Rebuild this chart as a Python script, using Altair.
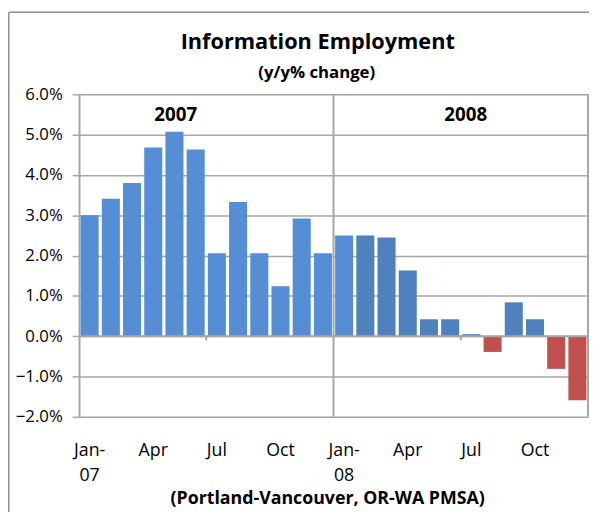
import altair as alt
import pandas as pd

periods = ["Jan-07","Feb-07","Mar-07","Apr-07","May-07","Jun-07","Jul-07","Aug-07","Sep-07","Oct-07","Nov-07","Dec-07",
           "Jan-08","Feb-08","Mar-08","Apr-08","May-08","Jun-08","Jul-08","Aug-08","Sep-08","Oct-08","Nov-08","Dec-08"]
values = [3.00, 3.41, 3.80, 4.68, 5.07, 4.63, 2.06, 3.33, 2.06, 1.24, 2.92, 2.06,
          2.50, 2.50, 2.45, 1.63, 0.42, 0.42, 0.05, -0.39, 0.84, 0.42, -0.81, -1.59]
shades = ["light"] * 13 + ["dark"] * 11
y_ticks = [-2, -1, 0, 1, 2, 3, 4, 5, 6]
year_labels = ["2007", "2008"]

FONT = "Open Sans"
W, H = 516, 327
GRID = "#a6a6a6"

df = pd.DataFrame({"period": periods, "value": values})
df["shade"] = [("neg" if v < 0 else s) for v, s in zip(values, shades)]

xscale = alt.Scale(domain=periods, paddingInner=0, paddingOuter=0)
yscale = alt.Scale(domain=[-2, 6], nice=False, zero=False)

label_expr = ("indexof(['Jan','Apr','Jul','Oct'], substring(datum.value,0,3)) < 0 ? '' : "
              "(substring(datum.value,0,3) == 'Jan' ? ['Jan-', substring(datum.value,4,6)] : substring(datum.value,0,3))")

bars = alt.Chart(df).mark_bar(width=alt.RelativeBandSize(0.85)).encode(
    x=alt.X("period:N", scale=xscale, sort=periods,
            axis=alt.Axis(title=None, labelExpr=label_expr, labelAngle=0, domain=False, ticks=False,
                          labelFont=FONT, labelFontSize=18, labelColor="#000", labelPadding=25,
                          labelBaseline="top", labelLineHeight=26, grid=False, labelOverlap=False)),
    y=alt.Y("value:Q", scale=yscale,
            axis=alt.Axis(title=None, values=y_ticks, labelExpr="format(datum.value, '.1f') + '%'",
                          grid=True, gridColor=GRID, gridWidth=1.5,
                          domain=True, domainColor=GRID, domainWidth=2,
                          ticks=True, tickColor=GRID, tickSize=7, tickWidth=1.5,
                          labelFont=FONT, labelFontSize=17, labelColor="#000", labelPadding=10)),
    color=alt.Color("shade:N", scale=alt.Scale(domain=["light", "dark", "neg"],
                                               range=["#558ed5", "#4f81bd", "#c0504d"]), legend=None),
)

zero_df = pd.DataFrame({"v": [0]})
zero_line = alt.Chart(zero_df).mark_rule(color=GRID, strokeWidth=2).encode(y=alt.Y("v:Q", scale=yscale))

sep_df = pd.DataFrame({"p": ["Jan-08"]})
sep = alt.Chart(sep_df).mark_rule(color=GRID, strokeWidth=2).encode(
    x=alt.X("p:N", scale=xscale, sort=periods, bandPosition=0),
    y=alt.value(0), y2=alt.value(H))

right_line = alt.Chart(zero_df).mark_rule(color=GRID, strokeWidth=2).encode(
    x=alt.value(W), y=alt.value(0), y2=alt.value(H))

tick_df = pd.DataFrame({"p": ["Jul-07", "Jul-08"]})
ticks = alt.Chart(tick_df).mark_rule(color=GRID, strokeWidth=2).encode(
    x=alt.X("p:N", scale=xscale, sort=periods, bandPosition=0),
    y=alt.Y("lo:Q", scale=yscale), y2="hi:Q").transform_calculate(lo="-0.1", hi="0")

year_df = pd.DataFrame({"t": year_labels, "px": [98, 392]})
years = alt.Chart(year_df).mark_text(font=FONT, fontSize=19, fontWeight="bold", color="#000").encode(
    x=alt.X("px:Q", scale=None), y=alt.value(21), text="t:N")

txt_df = pd.DataFrame({"t": ["Information Employment"]})
title = alt.Chart(txt_df).mark_text(font=FONT, fontSize=22, fontWeight="bold", color="#000").encode(
    x=alt.value(242), y=alt.value(-53), text="t:N")
sub_df = pd.DataFrame({"t": ["(y/y% change)"]})
subtitle = alt.Chart(sub_df).mark_text(font=FONT, fontSize=17, fontWeight="bold", color="#000").encode(
    x=alt.value(241), y=alt.value(-22), text="t:N")
foot_df = pd.DataFrame({"t": ["(Portland-Vancouver, OR-WA PMSA)"]})
footer = alt.Chart(foot_df).mark_text(font=FONT, fontSize=18, fontWeight="bold", color="#000").encode(
    x=alt.value(252), y=alt.value(410), text="t:N")

frame_l = alt.Chart(zero_df).mark_rule(color="#8c8c8c", strokeWidth=1.5).encode(
    x=alt.value(-71.2), y=alt.value(-83.2), y2=alt.value(H + 100))
frame_t = alt.Chart(zero_df).mark_rule(color="#8c8c8c", strokeWidth=1.5).encode(
    x=alt.value(-71.2), x2=alt.value(W + 20), y=alt.value(-83.2))

chart = alt.layer(bars, zero_line, sep, right_line, ticks, years, title, subtitle, footer, frame_l, frame_t).properties(
    width=W, height=H,
    padding={"left": 72, "top": 84, "right": 1, "bottom": 93},
    autosize=alt.AutoSizeParams(type="none"),
).configure_view(stroke=None).configure(background="white")

chart.save("out.html", embed_options={"renderer": "svg", "actions": False})
